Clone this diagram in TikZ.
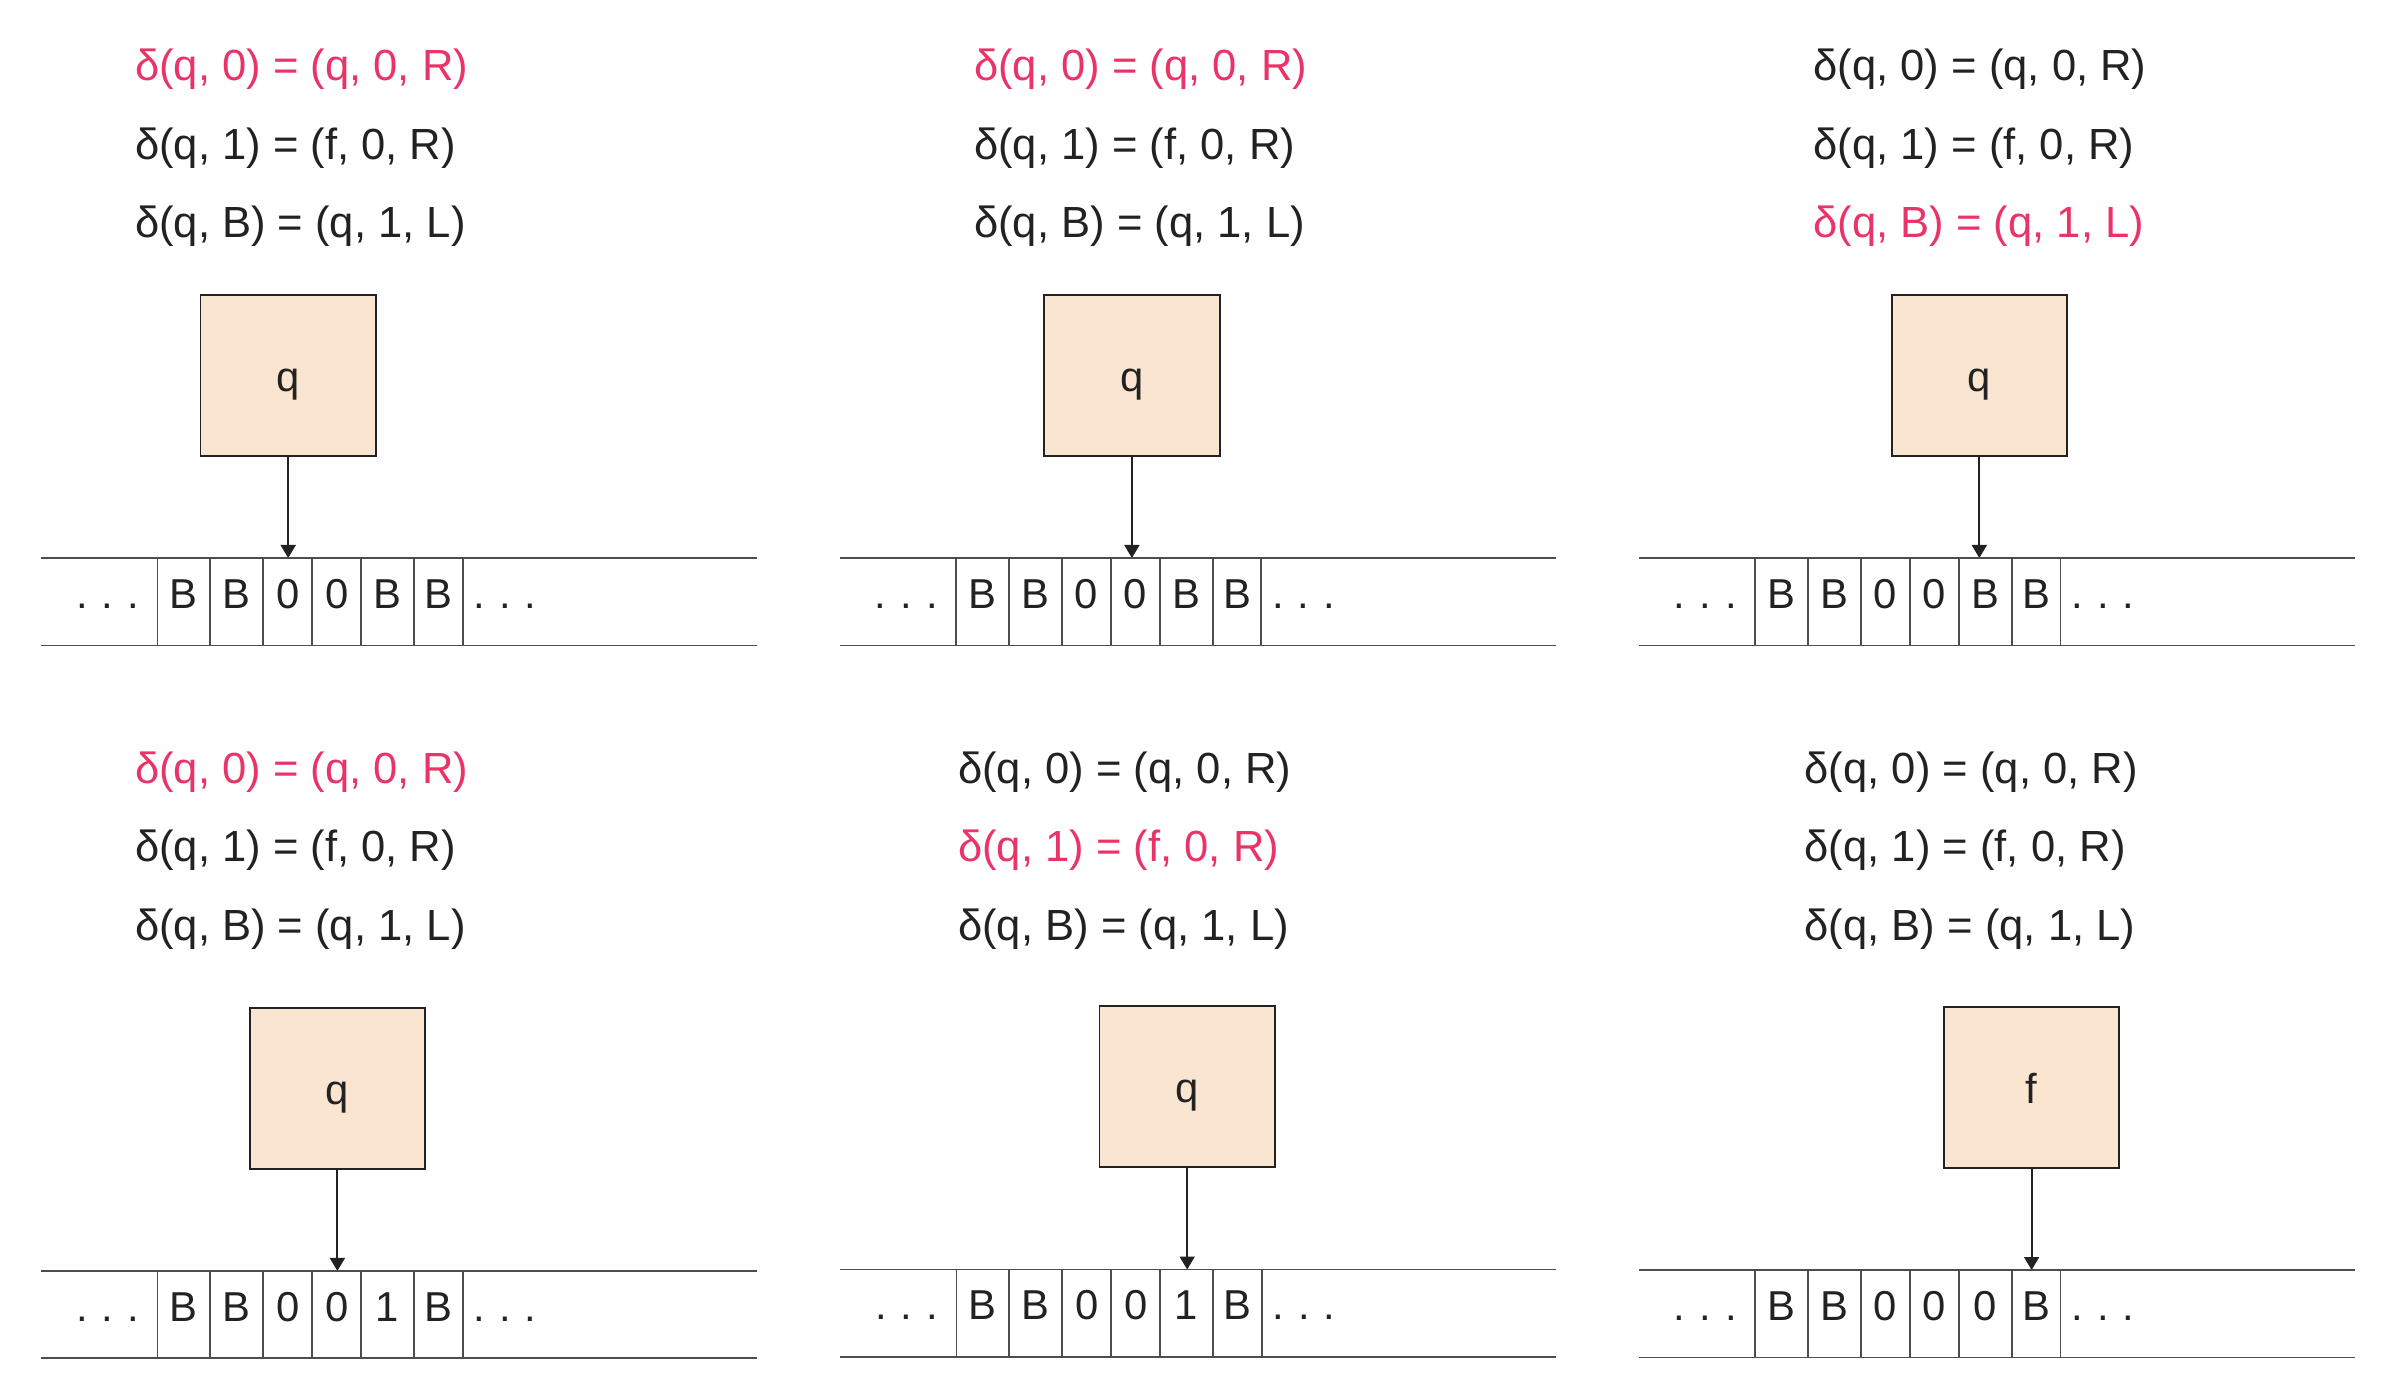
\documentclass[tikz,border=0pt]{standalone}
\usepackage{fontspec}
\setmainfont{Liberation Sans}
\usetikzlibrary{arrows.meta}

\definecolor{ink}{HTML}{222222}
\definecolor{hl}{HTML}{EA3468}
\definecolor{statefill}{HTML}{FAE6D0}
\definecolor{tapegray}{HTML}{4D4D4D}

\newcommand\tdots{.\hspace{4pt}.\hspace{4pt}.}

% one step of the machine: #1 name, #2/#3 tape corner, #4/#5 first rule,
% #6 red rule, #7 head, #8 state, #9 tape symbols
\newcommand\tmpanel[9]{%
  \begin{scope}[shift={(#2,#3)}]
    \foreach \i/\txt in {1/{δ(q, 0) = (q, 0, R)},2/{δ(q, 1) = (f, 0, R)},3/{δ(q, B) = (q, 1, L)}}{
      \ifnum\i=#6 \def\rc{hl}\else\def\rc{ink}\fi
      \node[ruletext,text=\rc] (#1-r\i) at (#4,#5+78.5*\i-78.5) {\txt};
    }
    \node[statebox] (#1-box) at (#7,-182.7) {#8};
    \coordinate (#1-head) at (#7,0);
    \draw[pointer] (#1-box) -- (#1-head);
    \draw[tapestroke] (0,0) -- (716,0) (0,87.5) -- (716,87.5);
    \foreach \b in {116.5,169.2,222.1,271.3,320,373,421.8}
      \draw[tapestroke] (\b,0) -- (\b,87.5);
    \foreach \s [count=\k] in {#9}{
      \pgfmathsetmacro\cx{{142.9,195.7,246.7,295.7,346.5,397.4}[\k-1]}
      \node[sym] (#1-c\k) at (\cx,50.3) {\s};
    }
    \node[sym] (#1-ldots) at (66.7,50.3) {\tdots};
    \node[sym] (#1-rdots) at (464.1,50.3) {\tdots};
  \end{scope}}

\begin{document}
\begin{tikzpicture}[x=0.1mm,y=-0.1mm,
  ruletext/.style={anchor=base west,inner sep=0pt,font=\fontsize{12.4}{15}\selectfont},
  statebox/.style={draw=ink,fill=statefill,line width=0.55pt,inner sep=0pt,
    minimum width=17.54mm,minimum height=16.07mm,text height=3.2mm,text depth=0pt,
    text=ink,font=\fontsize{11.9}{14}\selectfont},
  pointer/.style={draw=ink,line width=0.55pt,-{Triangle[length=1.3mm,width=1.5mm]}},
  tapestroke/.style={draw=tapegray,line width=0.55pt},
  sym/.style={anchor=base,inner sep=0pt,text=ink,font=\fontsize{11.9}{14}\selectfont}]
	\useasboundingbox[fill=white] (0,0) rectangle (2384,1382);
	% top row
	\tmpanel{a}{41}{558}{93.3}{-477.2}{1}{247.2}{q}{B,B,0,0,B,B}
	\tmpanel{b}{839.6}{558}{133.8}{-477.2}{1}{292.3}{q}{B,B,0,0,B,B}
	\tmpanel{c}{1638.7}{558}{174}{-477.2}{3}{340.6}{q}{B,B,0,0,B,B}
	% bottom row
	\tmpanel{d}{41}{1270.9}{93.3}{-487.8}{1}{296.4}{q}{B,B,0,0,1,B}
	\tmpanel{e}{840}{1269.5}{117.5}{-486.4}{2}{347.2}{q}{B,B,0,0,1,B}
	\tmpanel{f}{1638.7}{1270}{165.3}{-486.9}{0}{392.9}{f}{B,B,0,0,0,B}
\end{tikzpicture}
\end{document}
